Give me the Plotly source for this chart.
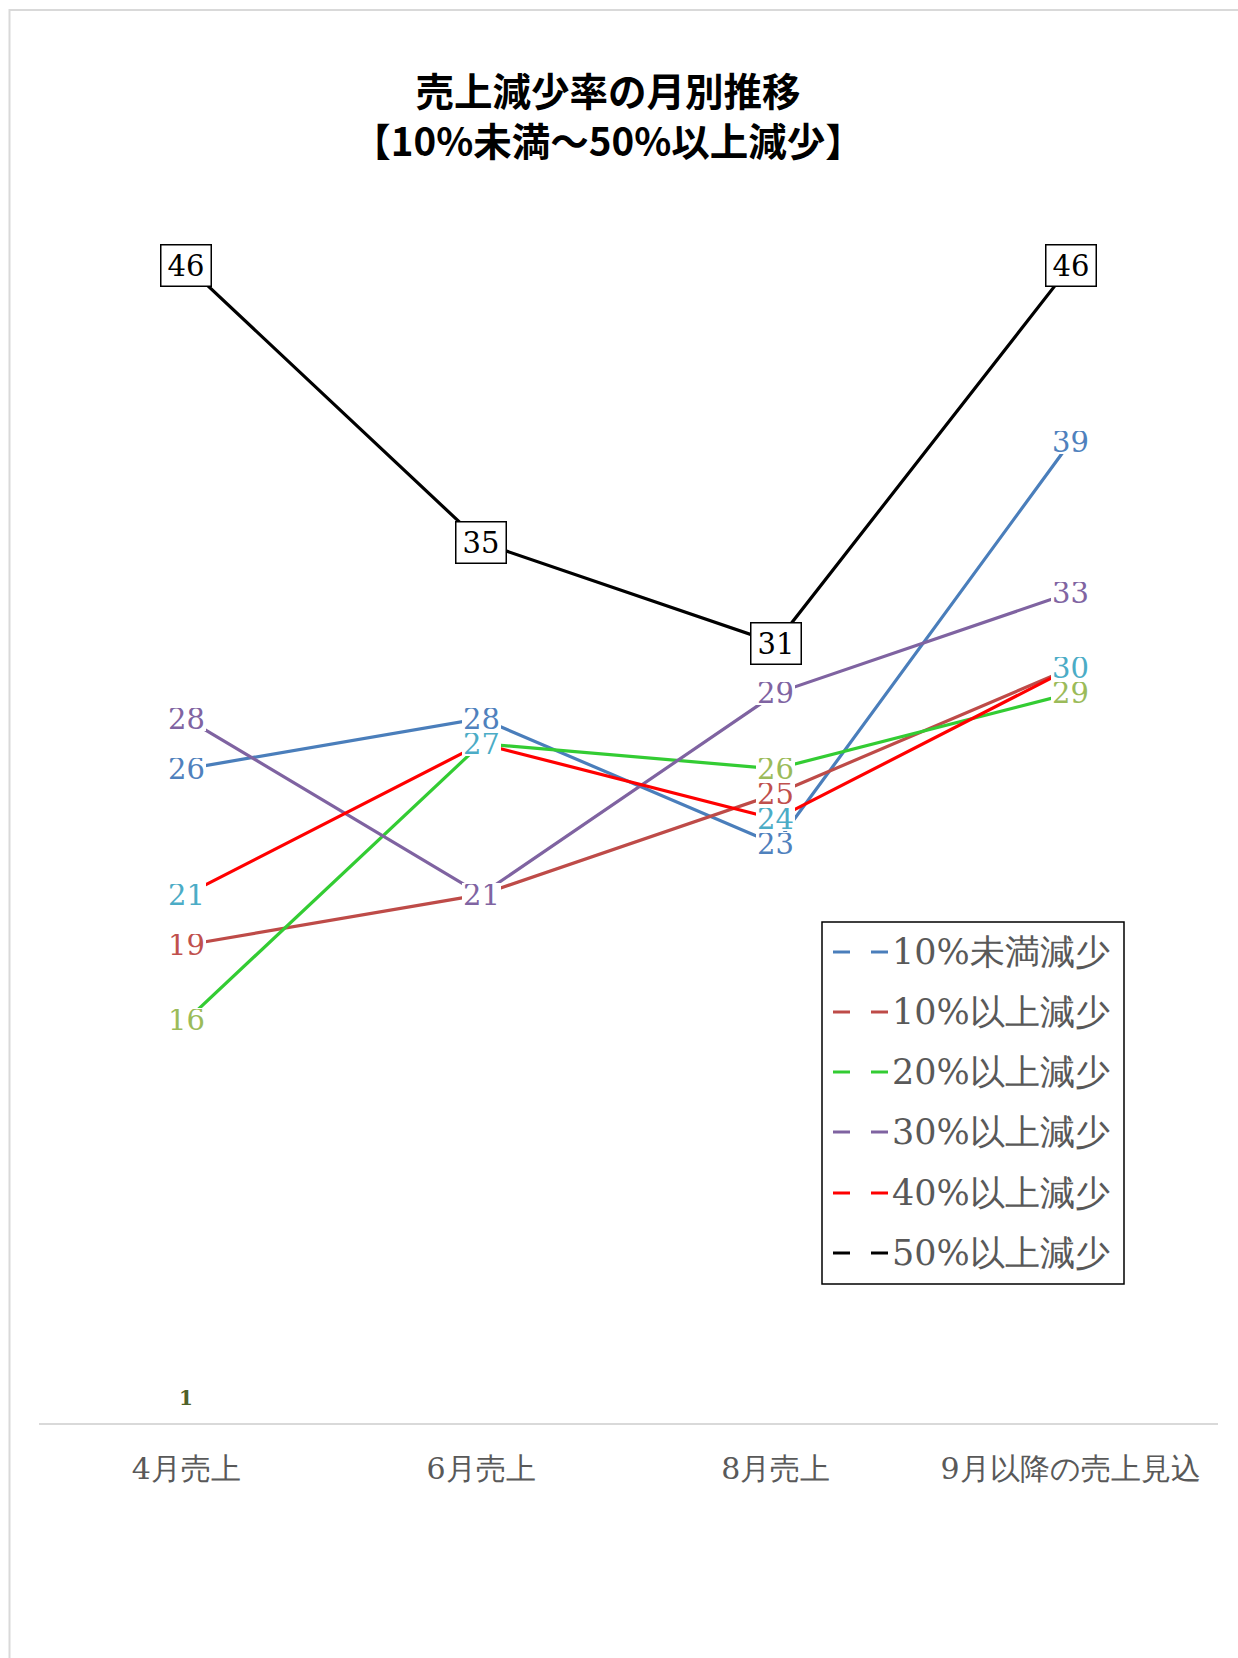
import plotly.graph_objects as go

# 売上減少率の月別推移（各区分の回答数）
months = ["4月売上", "6月売上", "8月売上", "9月以降の売上見込"]

below_10 = [26, 28, 23, 39]      # 10%未満減少
over_10 = [19, 21, 25, 30]       # 10%以上減少
over_20 = [16, 27, 26, 29]       # 20%以上減少
over_30 = [28, 21, 29, 33]       # 30%以上減少
over_40 = [21, 27, 24, 30]       # 40%以上減少
over_50 = [46, 35, 31, 46]       # 50%以上減少

series_names = ["10%未満減少", "10%以上減少", "20%以上減少",
                "30%以上減少", "40%以上減少", "50%以上減少"]
series_values = [below_10, over_10, over_20, over_30, over_40, over_50]

# 4月のみの補助ラベル
aux_label_value = 1

line_colors = ["#4A7EBB", "#BE4B48", "#33CC33", "#7F63A1", "#FF0000", "#000000"]
label_colors = ["#4F81BD", "#C0504D", "#9BBB59", "#8064A2", "#4BACC6", "#000000"]

W, H = 1238, 1658
M_L, M_R, M_T, M_B = 39, 20, 165, 235
PLOT_W = W - M_L - M_R
PLOT_H = H - M_T - M_B


def px_x(px):
    return (px - M_L) / PLOT_W


def px_y(py):
    return (H - M_B - py) / PLOT_H


fig = go.Figure()

for name, vals, col in zip(series_names, series_values, line_colors):
    fig.add_trace(go.Scatter(
        x=months, y=vals, name=name, mode="lines",
        line=dict(color=col, width=3.2),
        showlegend=False, hoverinfo="skip",
    ))

annotations = []
label_font = "DejaVu Serif, Liberation Serif, serif"

# data labels (white background hides the lines beneath)
for i, (vals, lcol) in enumerate(zip(series_values, label_colors)):
    boxed = i == len(series_values) - 1
    for m, v in zip(months, vals):
        annotations.append(dict(
            x=m, y=v, xref="x", yref="y", text=str(v), showarrow=False,
            font=dict(family=label_font, size=29, color=lcol),
            bgcolor="white",
            bordercolor="black" if boxed else "rgba(0,0,0,0)",
            borderwidth=1.5 if boxed else 0,
            borderpad=6 if boxed else 1,
            height=28 if boxed else 22,
            valign="middle",
            xanchor="center", yanchor="middle",
        ))

annotations.append(dict(
    x=months[0], y=aux_label_value, xref="x", yref="y",
    text="<b>%d</b>" % aux_label_value, showarrow=False,
    font=dict(family=label_font, size=20, color="#4F6228"),
    xanchor="center", yanchor="middle",
))

shapes = []

# outer chart-area border
shapes.append(dict(
    type="rect", xref="paper", yref="paper",
    x0=px_x(9.5), x1=px_x(W + 20), y0=px_y(H + 20), y1=px_y(10),
    line=dict(color="#D9D9D9", width=2), fillcolor="rgba(0,0,0,0)",
    layer="below",
))

# legend frame
shapes.append(dict(
    type="rect", xref="paper", yref="paper",
    x0=px_x(822), x1=px_x(1124), y0=px_y(1284), y1=px_y(922),
    line=dict(color="black", width=1.5), fillcolor="white",
))

legend_rows = [952, 1012, 1072, 1132, 1193, 1253]
for name, col, ry in zip(series_names, line_colors, legend_rows):
    for sx0, sx1 in ((833, 850), (871, 888)):
        shapes.append(dict(
            type="line", xref="paper", yref="paper",
            x0=px_x(sx0), x1=px_x(sx1), y0=px_y(ry), y1=px_y(ry),
            line=dict(color=col, width=3),
        ))
    annotations.append(dict(
        x=px_x(890), y=px_y(ry), xref="paper", yref="paper",
        text=name, showarrow=False, xanchor="left", yanchor="middle",
        font=dict(family=label_font, size=35, color="#595959"),
    ))

fig.update_layout(
    width=W, height=H,
    margin=dict(l=M_L, r=M_R, t=M_T, b=M_B),
    paper_bgcolor="white", plot_bgcolor="white",
    title=dict(
        text="売上減少率の月別推移<br>【10%未満～50%以上減少】",
        x=608 / W, xref="container", xanchor="center",
        y=1 - 106 / H, yref="container", yanchor="top",
        font=dict(family="Noto Sans CJK JP", size=38.5, color="black", weight="bold"),
    ),
    xaxis=dict(
        type="category", categoryorder="array", categoryarray=months,
        range=[-0.5, 3.5], showgrid=False, zeroline=False,
        showline=True, linecolor="#D9D9D9", linewidth=2,
        ticks="", ticklabelstandoff=18,
        tickfont=dict(family=label_font, size=30, color="#595959"),
    ),
    yaxis=dict(range=[0, 50], visible=False, showgrid=False, zeroline=False),
    showlegend=False,
    annotations=annotations,
    shapes=shapes,
)

fig.write_html("out.html")
